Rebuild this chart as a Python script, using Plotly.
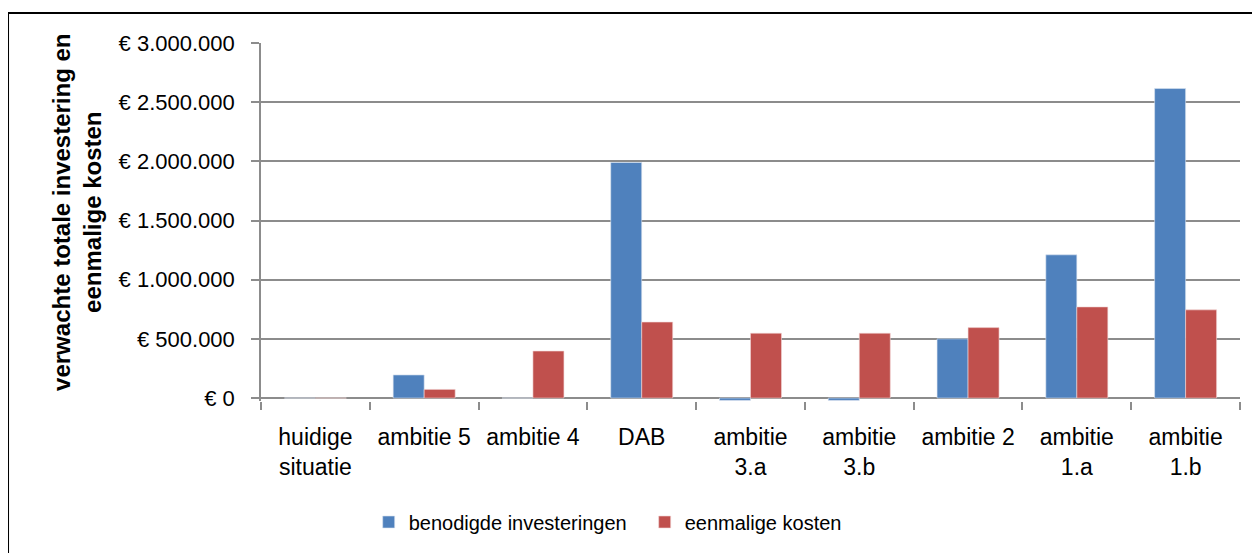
import plotly.graph_objects as go

categories = ["huidige<br>situatie", "ambitie 5", "ambitie 4", "DAB", "ambitie<br>3.a",
              "ambitie<br>3.b", "ambitie 2", "ambitie<br>1.a", "ambitie<br>1.b"]
investeringen = [0, 195000, 0, 1990000, -20000, -20000, 500000, 1210000, 2615000]
eenmalige = [0, 73000, 397000, 642000, 548000, 548000, 595000, 770000, 745000]
tick_vals = [0, 500000, 1000000, 1500000, 2000000, 2500000, 3000000]
tick_text = ["€ 0", "€ 500.000", "€ 1.000.000", "€ 1.500.000", "€ 2.000.000",
             "€ 2.500.000", "€ 3.000.000"]

FONT = "Liberation Sans, Arial, sans-serif"
GRID = "#8c8c8c"

fig = go.Figure()
fig.add_trace(go.Bar(x=categories, y=investeringen, name="benodigde investeringen",
                     marker=dict(color="#4F81BD", line=dict(color="#dbe4f0", width=0.6))))
fig.add_trace(go.Bar(x=categories, y=eenmalige, name="eenmalige kosten",
                     marker=dict(color="#C0504D", line=dict(color="#f2d7d6", width=0.6))))

fig.update_layout(
    width=1252, height=545,
    margin=dict(l=253, r=20, t=35, b=152),
    paper_bgcolor="white", plot_bgcolor="white",
    barmode="group", bargap=0.43, bargroupgap=0,
    font=dict(family=FONT, size=22, color="black"),
    showlegend=True,
    legend=dict(orientation="h", x=0.110, xanchor="left", y=-0.338, yanchor="middle",
                font=dict(family=FONT, size=20, color="black"), itemwidth=30,
                entrywidth=231, entrywidthmode="pixels",
                bgcolor="rgba(0,0,0,0)"),
    xaxis=dict(showline=False, ticks="outside", tickson="boundaries", ticklen=8,
               tickcolor=GRID, tickwidth=1.5, showgrid=False, zeroline=False,
               tickfont=dict(family=FONT, size=23), ticklabelstandoff=20,
               tickangle=0, automargin=False),
    yaxis=dict(range=[-25000, 3000000], tickvals=tick_vals, ticktext=tick_text,
               showline=True, linecolor=GRID, linewidth=1.5, ticks="outside",
               ticklen=8, tickcolor=GRID, tickwidth=1.5,
               showgrid=True, gridcolor=GRID, gridwidth=1.5,
               zeroline=True, zerolinecolor=GRID, zerolinewidth=1.5,
               tickfont=dict(family=FONT, size=22), ticklabelstandoff=12,
               automargin=False),
)

fig.add_annotation(text="<b>verwachte totale investering en<br>eenmalige kosten</b>",
                   xref="paper", yref="paper", x=-0.188, y=0.528, textangle=-90,
                   xanchor="center", yanchor="middle",
                   showarrow=False, font=dict(family=FONT, size=24, color="black"),
                   align="center")

fig.add_shape(type="rect", xref="paper", yref="paper",
              x0=-0.2584, x1=1.03, y0=-0.5, y1=(401 - 13) / 358,
              line=dict(color="black", width=2), fillcolor="rgba(0,0,0,0)", layer="above")

fig.write_html("out.html")
